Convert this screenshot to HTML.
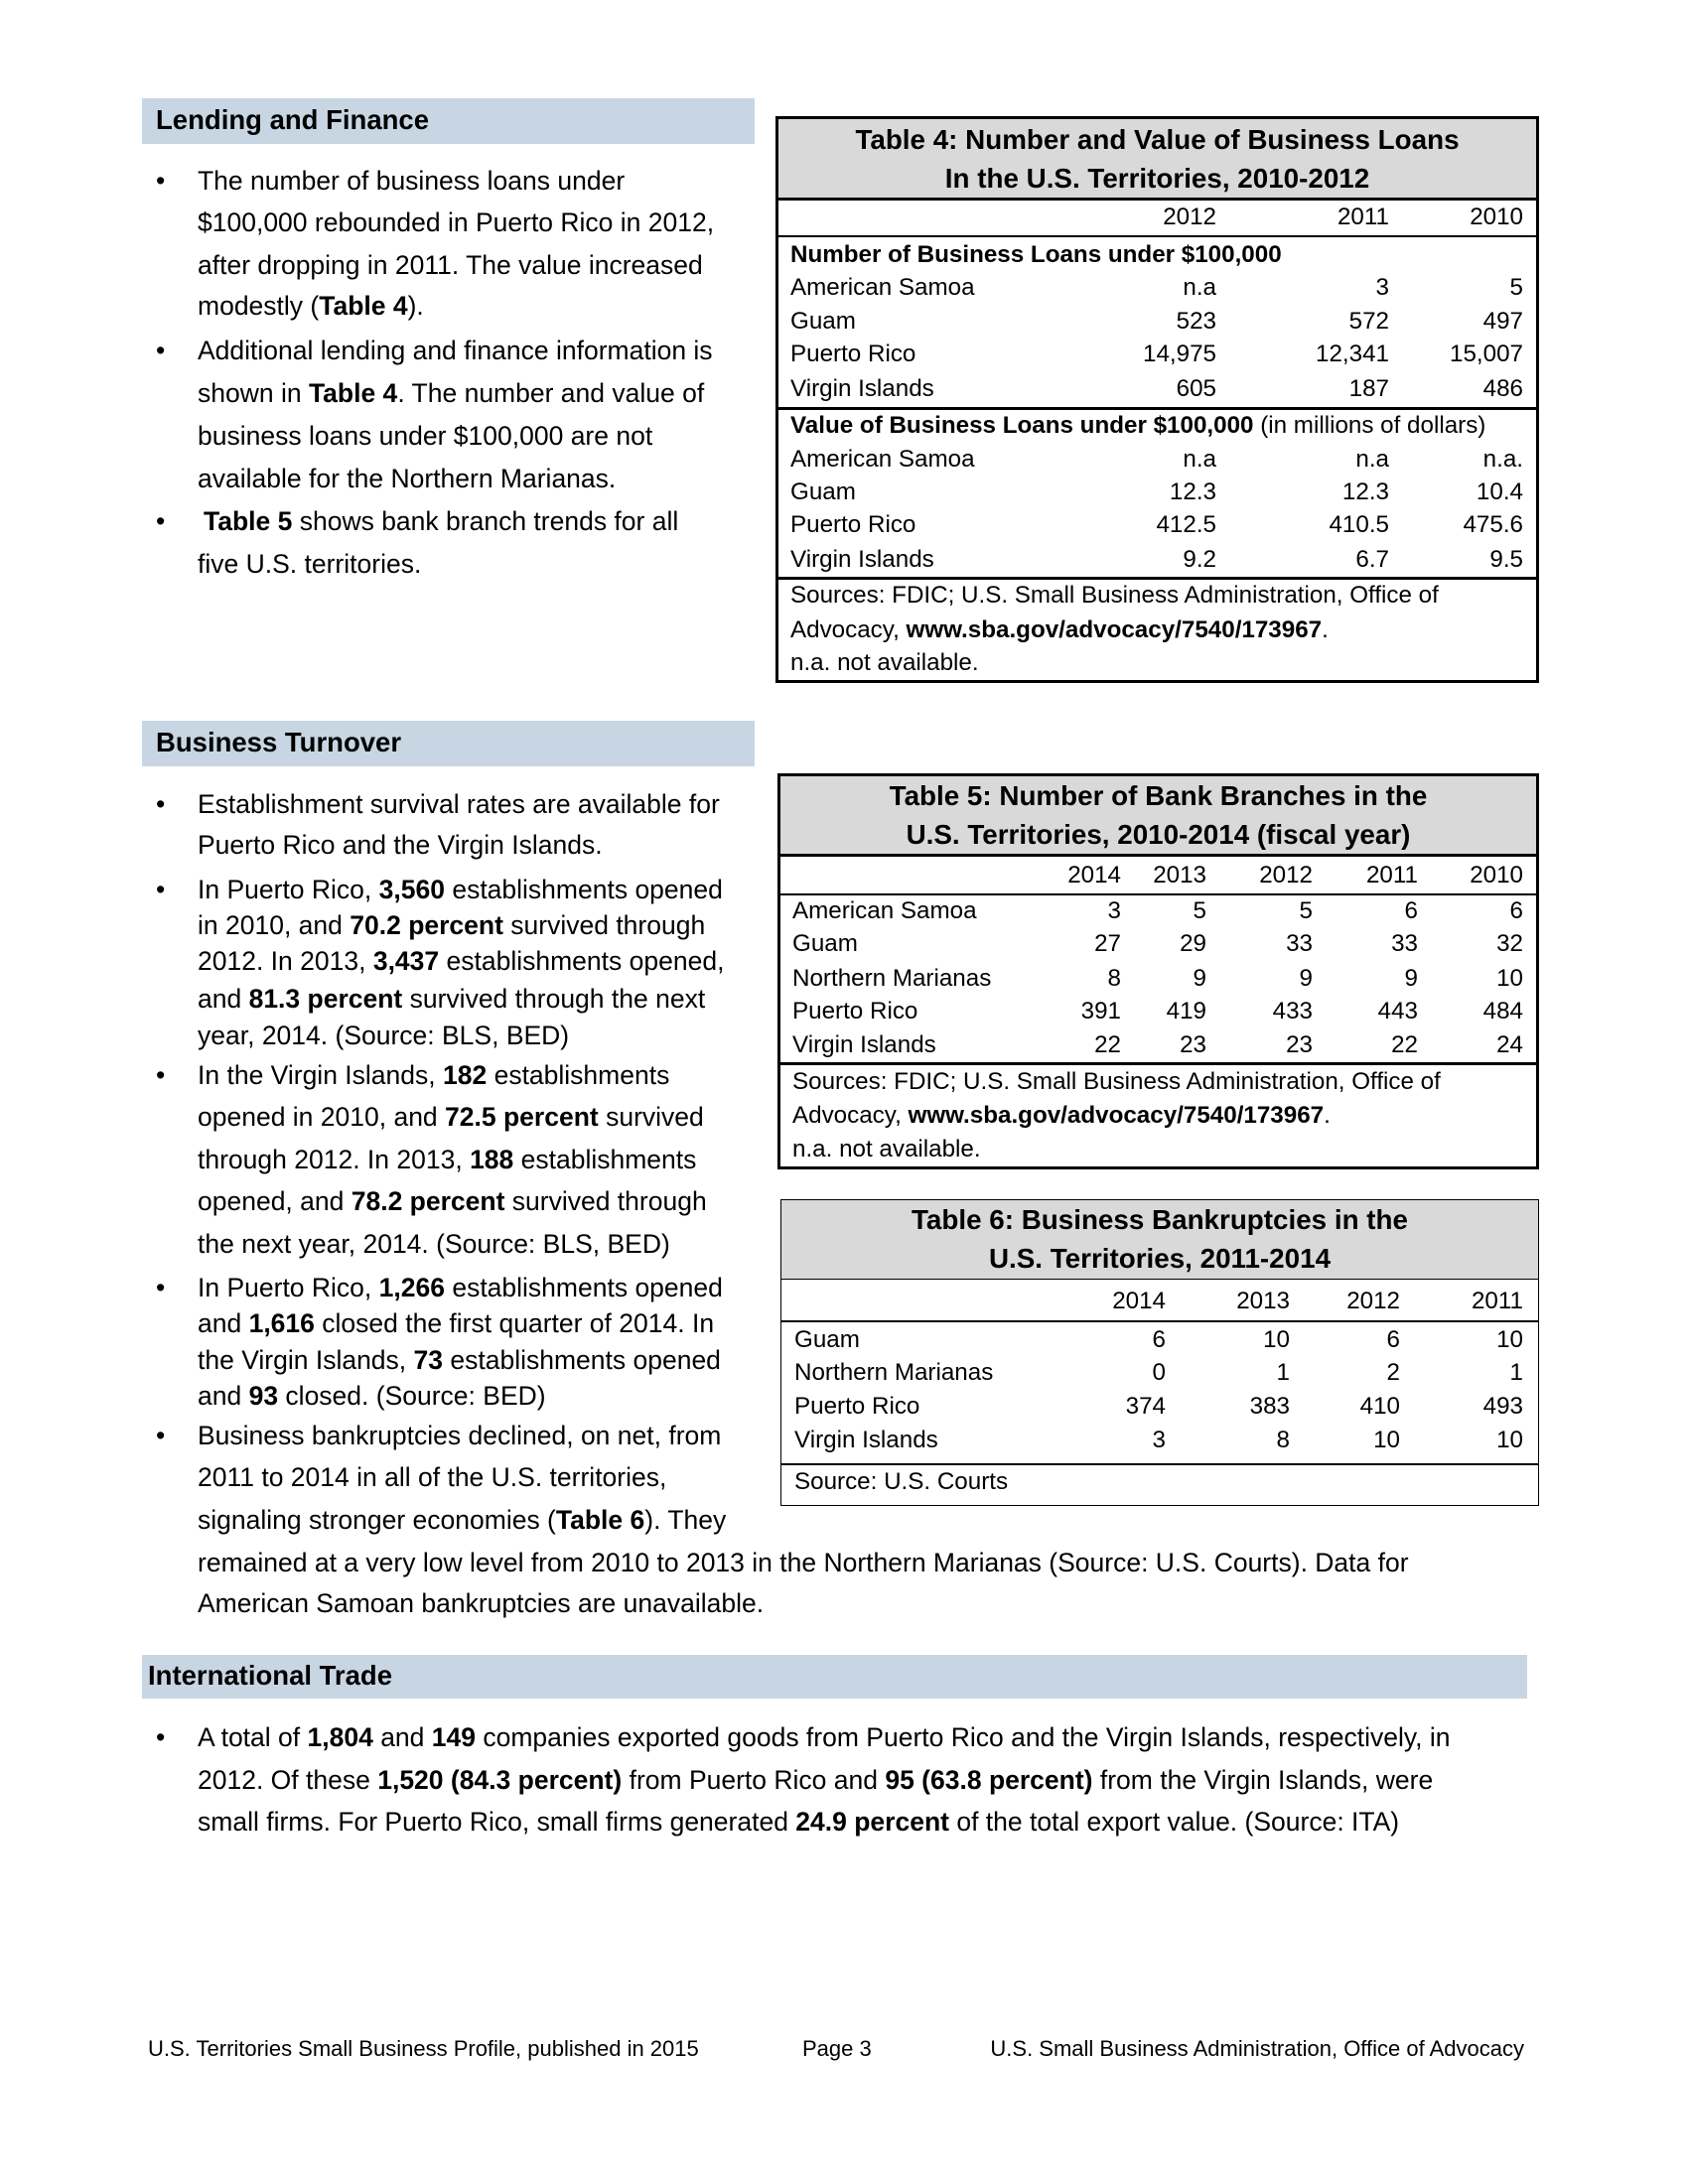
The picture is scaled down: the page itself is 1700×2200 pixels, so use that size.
<!DOCTYPE html>
<html><head><meta charset="utf-8"><style>
body{margin:0;width:1700px;height:2200px;background:#fff;position:relative;font-family:"Liberation Sans",sans-serif;color:#000;overflow:hidden}
.t{position:absolute;white-space:nowrap;line-height:30px;height:30px;font-size:26.5px}
.s{font-size:24.2px}
.r{text-align:right}
.hd{position:absolute;background:#c8d6e3;font-weight:bold;font-size:27.5px;line-height:44px;padding-left:14px;box-sizing:border-box}
.box{position:absolute;box-sizing:border-box}
.band{position:absolute;background:#d9d9d9;box-sizing:border-box;text-align:center;font-weight:bold;font-size:27.8px;line-height:39px}
.ln{position:absolute;background:#000}
.ft{position:absolute;white-space:nowrap;font-size:22px;line-height:24px}
</style></head><body>

<div class="hd" style="left:143px;top:99px;width:617px;height:46px">Lending and Finance</div>
<div class="t" style="left:157px;top:167px">•</div>
<div class="t" style="left:199px;top:167px">The number of business loans under</div>
<div class="t" style="left:199px;top:209px">$100,000 rebounded in Puerto Rico in 2012,</div>
<div class="t" style="left:199px;top:252px">after dropping in 2011. The value increased</div>
<div class="t" style="left:199px;top:293px">modestly (<b>Table 4</b>).</div>
<div class="t" style="left:157px;top:338px">•</div>
<div class="t" style="left:199px;top:338px">Additional lending and finance information is</div>
<div class="t" style="left:199px;top:381px">shown in <b>Table 4</b>. The number and value of</div>
<div class="t" style="left:199px;top:424px">business loans under $100,000 are not</div>
<div class="t" style="left:199px;top:467px">available for the Northern Marianas.</div>
<div class="t" style="left:157px;top:510px">•</div>
<div class="t" style="left:205px;top:510px"><b>Table 5</b> shows bank branch trends for all</div>
<div class="t" style="left:199px;top:553px">five U.S. territories.</div>

<!-- Table 4 -->
<div class="box" style="left:781px;top:117px;width:769px;height:571px;border:3px solid #000"></div>
<div class="band" style="left:784px;top:120px;width:763px;height:80px;padding-top:1px">Table 4: Number and Value of Business Loans<br>In the U.S. Territories, 2010-2012</div>
<div class="ln" style="left:781px;top:199px;width:769px;height:3px"></div>
<div class="ln" style="left:781px;top:237px;width:769px;height:2px"></div>
<div class="ln" style="left:781px;top:410px;width:769px;height:3px"></div>
<div class="ln" style="left:781px;top:581px;width:769px;height:3px"></div>
<div class="t s r" style="right:475px;top:204px">2012</div>
<div class="t s r" style="right:301px;top:204px">2011</div>
<div class="t s r" style="right:166px;top:204px">2010</div>
<div class="t s" style="left:796px;top:242px"><b>Number of Business Loans under $100,000</b></div>
<div class="t s" style="left:796px;top:275px">American Samoa</div><div class="t s r" style="right:475px;top:275px">n.a</div><div class="t s r" style="right:301px;top:275px">3</div><div class="t s r" style="right:166px;top:275px">5</div>
<div class="t s" style="left:796px;top:309px">Guam</div><div class="t s r" style="right:475px;top:309px">523</div><div class="t s r" style="right:301px;top:309px">572</div><div class="t s r" style="right:166px;top:309px">497</div>
<div class="t s" style="left:796px;top:342px">Puerto Rico</div><div class="t s r" style="right:475px;top:342px">14,975</div><div class="t s r" style="right:301px;top:342px">12,341</div><div class="t s r" style="right:166px;top:342px">15,007</div>
<div class="t s" style="left:796px;top:377px">Virgin Islands</div><div class="t s r" style="right:475px;top:377px">605</div><div class="t s r" style="right:301px;top:377px">187</div><div class="t s r" style="right:166px;top:377px">486</div>
<div class="t s" style="left:796px;top:414px"><b>Value of Business Loans under $100,000</b> (in millions of dollars)</div>
<div class="t s" style="left:796px;top:448px">American Samoa</div><div class="t s r" style="right:475px;top:448px">n.a</div><div class="t s r" style="right:301px;top:448px">n.a</div><div class="t s r" style="right:166px;top:448px">n.a.</div>
<div class="t s" style="left:796px;top:481px">Guam</div><div class="t s r" style="right:475px;top:481px">12.3</div><div class="t s r" style="right:301px;top:481px">12.3</div><div class="t s r" style="right:166px;top:481px">10.4</div>
<div class="t s" style="left:796px;top:514px">Puerto Rico</div><div class="t s r" style="right:475px;top:514px">412.5</div><div class="t s r" style="right:301px;top:514px">410.5</div><div class="t s r" style="right:166px;top:514px">475.6</div>
<div class="t s" style="left:796px;top:549px">Virgin Islands</div><div class="t s r" style="right:475px;top:549px">9.2</div><div class="t s r" style="right:301px;top:549px">6.7</div><div class="t s r" style="right:166px;top:549px">9.5</div>
<div class="t s" style="left:796px;top:585px">Sources: FDIC; U.S. Small Business Administration, Office of</div>
<div class="t s" style="left:796px;top:620px">Advocacy, <b>www.sba.gov/advocacy/7540/173967</b>.</div>
<div class="t s" style="left:796px;top:653px">n.a. not available.</div>

<div class="hd" style="left:143px;top:726px;width:617px;height:46px">Business Turnover</div>
<div class="t" style="left:157px;top:795px">•</div>
<div class="t" style="left:199px;top:795px">Establishment survival rates are available for</div>
<div class="t" style="left:199px;top:836px">Puerto Rico and the Virgin Islands.</div>
<div class="t" style="left:157px;top:881px">•</div>
<div class="t" style="left:199px;top:881px">In Puerto Rico, <b>3,560</b> establishments opened</div>
<div class="t" style="left:199px;top:917px">in 2010, and <b>70.2 percent</b> survived through</div>
<div class="t" style="left:199px;top:953px">2012. In 2013, <b>3,437</b> establishments opened,</div>
<div class="t" style="left:199px;top:991px">and <b>81.3 percent</b> survived through the next</div>
<div class="t" style="left:199px;top:1028px">year, 2014. (Source: BLS, BED)</div>
<div class="t" style="left:157px;top:1068px">•</div>
<div class="t" style="left:199px;top:1068px">In the Virgin Islands, <b>182</b> establishments</div>
<div class="t" style="left:199px;top:1110px">opened in 2010, and <b>72.5 percent</b> survived</div>
<div class="t" style="left:199px;top:1153px">through 2012. In 2013, <b>188</b> establishments</div>
<div class="t" style="left:199px;top:1195px">opened, and <b>78.2 percent</b> survived through</div>
<div class="t" style="left:199px;top:1238px">the next year, 2014. (Source: BLS, BED)</div>
<div class="t" style="left:157px;top:1282px">•</div>
<div class="t" style="left:199px;top:1282px">In Puerto Rico, <b>1,266</b> establishments opened</div>
<div class="t" style="left:199px;top:1318px">and <b>1,616</b> closed the first quarter of 2014. In</div>
<div class="t" style="left:199px;top:1355px">the Virgin Islands, <b>73</b> establishments opened</div>
<div class="t" style="left:199px;top:1391px">and <b>93</b> closed. (Source: BED)</div>
<div class="t" style="left:157px;top:1431px">•</div>
<div class="t" style="left:199px;top:1431px">Business bankruptcies declined, on net, from</div>
<div class="t" style="left:199px;top:1473px">2011 to 2014 in all of the U.S. territories,</div>
<div class="t" style="left:199px;top:1516px">signaling stronger economies (<b>Table 6</b>). They</div>
<div class="t" style="left:199px;top:1559px">remained at a very low level from 2010 to 2013 in the Northern Marianas (Source: U.S. Courts). Data for</div>
<div class="t" style="left:199px;top:1600px">American Samoan bankruptcies are unavailable.</div>

<!-- Table 5 -->
<div class="box" style="left:783px;top:779px;width:767px;height:399px;border:3px solid #000"></div>
<div class="band" style="left:786px;top:782px;width:761px;height:79px">Table 5: Number of Bank Branches in the<br>U.S. Territories, 2010-2014 (fiscal year)</div>
<div class="ln" style="left:783px;top:860px;width:767px;height:3px"></div>
<div class="ln" style="left:783px;top:900px;width:767px;height:2px"></div>
<div class="ln" style="left:783px;top:1070px;width:767px;height:3px"></div>
<div class="t s r" style="right:571px;top:867px">2014</div><div class="t s r" style="right:485px;top:867px">2013</div><div class="t s r" style="right:378px;top:867px">2012</div><div class="t s r" style="right:272px;top:867px">2011</div><div class="t s r" style="right:166px;top:867px">2010</div>
<div class="t s" style="left:798px;top:903px">American Samoa</div><div class="t s r" style="right:571px;top:903px">3</div><div class="t s r" style="right:485px;top:903px">5</div><div class="t s r" style="right:378px;top:903px">5</div><div class="t s r" style="right:272px;top:903px">6</div><div class="t s r" style="right:166px;top:903px">6</div>
<div class="t s" style="left:798px;top:936px">Guam</div><div class="t s r" style="right:571px;top:936px">27</div><div class="t s r" style="right:485px;top:936px">29</div><div class="t s r" style="right:378px;top:936px">33</div><div class="t s r" style="right:272px;top:936px">33</div><div class="t s r" style="right:166px;top:936px">32</div>
<div class="t s" style="left:798px;top:971px">Northern Marianas</div><div class="t s r" style="right:571px;top:971px">8</div><div class="t s r" style="right:485px;top:971px">9</div><div class="t s r" style="right:378px;top:971px">9</div><div class="t s r" style="right:272px;top:971px">9</div><div class="t s r" style="right:166px;top:971px">10</div>
<div class="t s" style="left:798px;top:1004px">Puerto Rico</div><div class="t s r" style="right:571px;top:1004px">391</div><div class="t s r" style="right:485px;top:1004px">419</div><div class="t s r" style="right:378px;top:1004px">433</div><div class="t s r" style="right:272px;top:1004px">443</div><div class="t s r" style="right:166px;top:1004px">484</div>
<div class="t s" style="left:798px;top:1038px">Virgin Islands</div><div class="t s r" style="right:571px;top:1038px">22</div><div class="t s r" style="right:485px;top:1038px">23</div><div class="t s r" style="right:378px;top:1038px">23</div><div class="t s r" style="right:272px;top:1038px">22</div><div class="t s r" style="right:166px;top:1038px">24</div>
<div class="t s" style="left:798px;top:1075px">Sources: FDIC; U.S. Small Business Administration, Office of</div>
<div class="t s" style="left:798px;top:1109px">Advocacy, <b>www.sba.gov/advocacy/7540/173967</b>.</div>
<div class="t s" style="left:798px;top:1143px">n.a. not available.</div>

<!-- Table 6 -->
<div class="box" style="left:786px;top:1208px;width:764px;height:309px;border:1.5px solid #000"></div>
<div class="band" style="left:787px;top:1209px;width:762px;height:80px;border-bottom:1.5px solid #000">Table 6: Business Bankruptcies in the<br>U.S. Territories, 2011-2014</div>
<div class="ln" style="left:786px;top:1330px;width:764px;height:1.5px"></div>
<div class="ln" style="left:786px;top:1474px;width:764px;height:1.5px"></div>
<div class="t s r" style="right:526px;top:1296px">2014</div><div class="t s r" style="right:401px;top:1296px">2013</div><div class="t s r" style="right:290px;top:1296px">2012</div><div class="t s r" style="right:166px;top:1296px">2011</div>
<div class="t s" style="left:800px;top:1335px">Guam</div><div class="t s r" style="right:526px;top:1335px">6</div><div class="t s r" style="right:401px;top:1335px">10</div><div class="t s r" style="right:290px;top:1335px">6</div><div class="t s r" style="right:166px;top:1335px">10</div>
<div class="t s" style="left:800px;top:1368px">Northern Marianas</div><div class="t s r" style="right:526px;top:1368px">0</div><div class="t s r" style="right:401px;top:1368px">1</div><div class="t s r" style="right:290px;top:1368px">2</div><div class="t s r" style="right:166px;top:1368px">1</div>
<div class="t s" style="left:800px;top:1402px">Puerto Rico</div><div class="t s r" style="right:526px;top:1402px">374</div><div class="t s r" style="right:401px;top:1402px">383</div><div class="t s r" style="right:290px;top:1402px">410</div><div class="t s r" style="right:166px;top:1402px">493</div>
<div class="t s" style="left:800px;top:1436px">Virgin Islands</div><div class="t s r" style="right:526px;top:1436px">3</div><div class="t s r" style="right:401px;top:1436px">8</div><div class="t s r" style="right:290px;top:1436px">10</div><div class="t s r" style="right:166px;top:1436px">10</div>
<div class="t s" style="left:800px;top:1478px">Source: U.S. Courts</div>

<div class="hd" style="left:143px;top:1667px;width:1395px;height:44px;padding-left:6px;line-height:42px">International Trade</div>
<div class="t" style="left:157px;top:1735px">•</div>
<div class="t" style="left:199px;top:1735px">A total of <b>1,804</b> and <b>149</b> companies exported goods from Puerto Rico and the Virgin Islands, respectively, in</div>
<div class="t" style="left:199px;top:1778px">2012. Of these <b>1,520 (84.3 percent)</b> from Puerto Rico and <b>95 (63.8 percent)</b> from the Virgin Islands, were</div>
<div class="t" style="left:199px;top:1820px">small firms. For Puerto Rico, small firms generated <b>24.9 percent</b> of the total export value. (Source: ITA)</div>

<div class="ft" style="left:149px;top:2052px">U.S. Territories Small Business Profile, published in 2015</div>
<div class="ft" style="left:808px;top:2052px">Page 3</div>
<div class="ft" style="right:165px;top:2052px">U.S. Small Business Administration, Office of Advocacy</div>
</body></html>
